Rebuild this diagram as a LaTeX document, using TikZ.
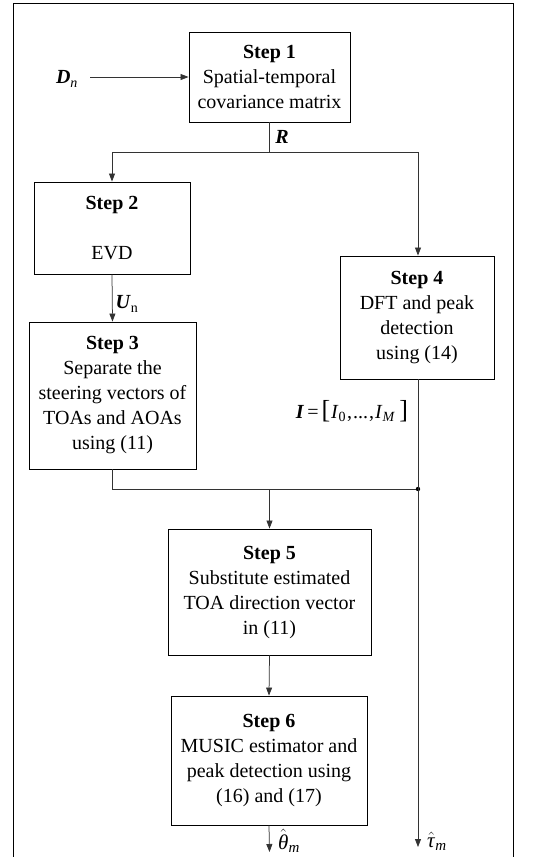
\documentclass[tikz,border=0pt]{standalone}
\usepackage{fontspec}
\setmainfont{Liberation Serif}
\usetikzlibrary{arrows.meta}
\tikzset{
  stepbox/.style={draw, line width=0.9pt, align=center, inner sep=0pt, font=\fontsize{20}{25}\selectfont},
  conn/.style={line width=0.75pt, draw=black!80},
  arr/.style={conn, -{Triangle[length=8pt,width=6pt]}},
  lbl/.style={font=\fontsize{20}{25}\selectfont, inner sep=0pt}
}
\newcommand{\hatsym}[2]{\(\hat{\hbox{\fontsize{21}{25}\selectfont\textit{#1}}}_{\hbox{\fontsize{15}{15}\selectfont\textit{#2}}}\)}
\begin{document}
\begin{tikzpicture}[x=1pt,y=-1pt]
\useasboundingbox (0,0) rectangle (557,857);
% outer frame (open at the bottom)
\draw[line width=0.9pt] (13,857) -- (13,3) -- (513,3) -- (513,857);

% boxes
\node[stepbox, minimum width=161pt, minimum height=90pt] (s1) at (269.5,77)
  {\textbf{Step 1}\\Spatial-temporal\\covariance matrix};
\node[stepbox, minimum width=156pt, minimum height=92pt] (s2) at (112,228)
  {\textbf{Step 2}\\[25pt]EVD};
\node[stepbox, minimum width=167pt, minimum height=147pt] (s3) at (112.5,395.5)
  {\textbf{Step 3}\\Separate the\\steering vectors of\\TOAs and AOAs\\using (11)};
\node[stepbox, minimum width=154pt, minimum height=123pt] (s4) at (417,317.5)
  {\textbf{Step 4}\\DFT and peak\\detection\\using (14)};
\node[stepbox, minimum width=203pt, minimum height=126pt] (s5) at (269.5,592)
  {\textbf{Step 5}\\Substitute estimated\\TOA direction vector\\in (11)};
\node[stepbox, minimum width=196pt, minimum height=129pt] (s6) at (269,760.5)
  {\textbf{Step 6}\\MUSIC estimator and\\peak detection using\\(16) and (17)};

% labels
\node[lbl] (dn) at (67,79) {\textbf{\textit{D}}\textsubscript{\textit{n}}};
\node[lbl] (rl) at (282,137) {\textbf{\textit{R}}};
\node[lbl] (ul) at (127,304) {\textbf{\textit{U}}\textsubscript{n}};
\node[lbl] (il) at (352,411) {\textbf{\textit{I}}\kern3pt=\kern3pt{\fontsize{26}{25}\selectfont[}\kern1pt\textit{I}\textsubscript{0}\kern1pt,\kern1pt...\kern1pt,\kern1pt\textit{I}\textsubscript{\textit{M}}\kern4pt{\fontsize{26}{25}\selectfont]}};
\node[lbl, anchor=west] (th) at (278,841) {\hatsym{θ}{m}};
\node[lbl, anchor=west] (ta) at (427,841) {\hatsym{τ}{m}};

% coordinates
\coordinate (dnst) at (90,77);
\coordinate (br) at (269.5,152);
\coordinate (jn) at (418,489);
\coordinate (j5) at (269.5,489);
\coordinate (tend) at (418,847);
\coordinate (thend) at (269.5,852);

% connectors
\draw[arr] (dnst) -- (s1.west |- dnst);
\draw[conn] (s1.south) -- (br);
\draw[arr] (br) -| (s2.north);
\draw[arr] (br) -| (s4.north -| jn);
\draw[arr] (s2.south) -- (s3.north);
\draw[conn] (s3.south) |- (jn);
\fill (jn) circle (2.2pt);
\draw[arr] (s4.south -| jn) -- (tend);
\draw[arr] (j5) -- (s5.north);
\draw[arr] (s5.south) -- (s6.north);
\draw[arr] (s6.south) -- (thend);
\end{tikzpicture}
\end{document}
